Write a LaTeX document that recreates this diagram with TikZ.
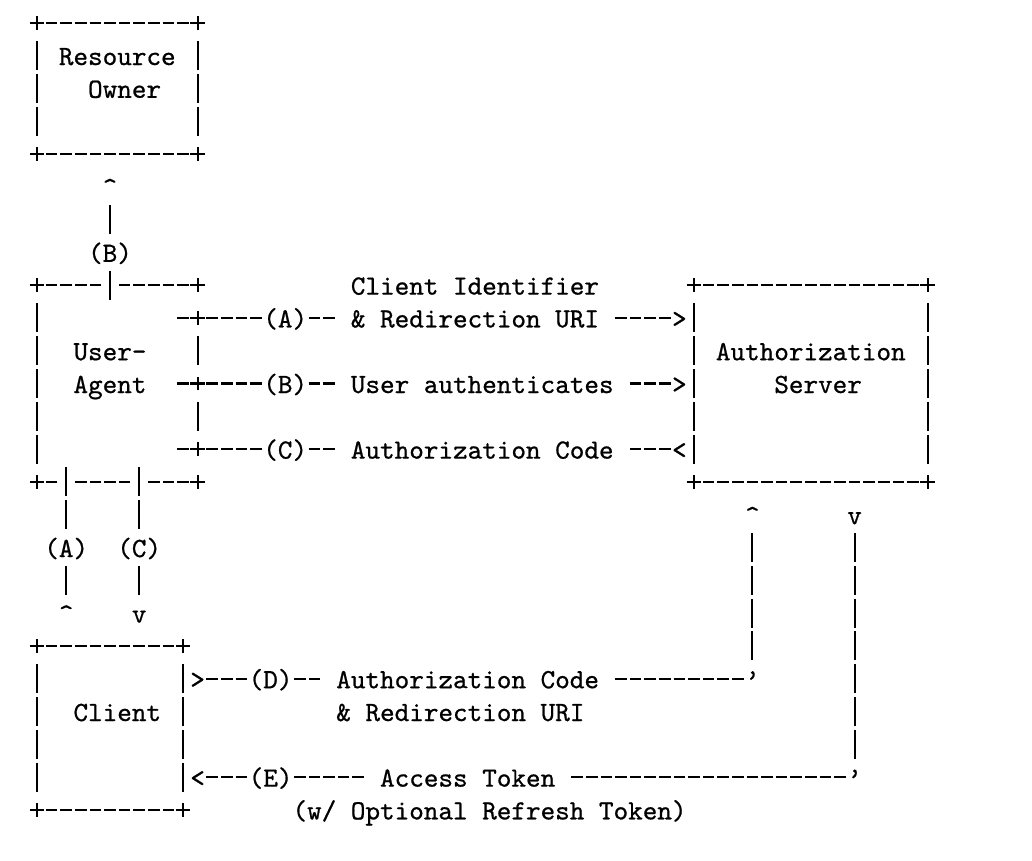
\documentclass[tikz,border=0pt]{standalone}
\usepackage{fontspec}
\usetikzlibrary{calc}
\newfontfamily\asciitt{lmmono10-regular.otf}[FakeBold=0.7]
\newcommand\asciifont{\fontsize{27.8pt}{33pt}\selectfont\asciitt}
\newcommand\padsp{\phantom{x}}
\tikzset{
  lw/.style={line width=2.1pt, line cap=butt},
  hrun/.style={lw, dash pattern=on 11.6pt off 3pt, dash phase=13.1pt},
  vrun/.style={lw, dash pattern=on 29pt off 3.8pt, dash phase=30.9pt},
  txt/.style={font=\asciifont, inner sep=0pt, outer sep=0pt, anchor=base west, yshift=-9.5pt},
  lbl/.style={txt, fill=white, text height=25.9pt, text depth=6.9pt},
  boxarea/.style={rectangle, inner sep=0pt, outer sep=0pt},
}
\newcommand\plusat[1]{\draw[lw] (#1) ++(-7.3pt,0pt) -- ++(14.6pt,0pt) (#1) ++(0pt,-6.8pt) -- ++(0pt,13.6pt);}
\newcommand\hrunat[3]{\draw[hrun] ({#1-0.5},#3) -- ({#2+0.5},#3);}
\newcommand\vrunat[3]{\draw[vrun] (#1,{#2-0.5}) -- (#1,{#3+0.5});}
\newcommand\txtat[4]{\node[txt] (#1) at ({#2-0.5},#3) {#4};}
\newcommand\lblat[4]{\node[lbl] (#1) at ({#2-0.5},#3) {#4};}
\begin{document}
\begin{tikzpicture}
\useasboundingbox (0pt,0pt) rectangle (1032pt,-860pt);
\fill[white] (0pt,0pt) rectangle (1032pt,-860pt);
\begin{scope}[shift={(-36pt,-22.7pt)}, x=14.6pt, y=-32.8pt]
% ---------- box areas ----------
\node[boxarea, minimum width=160.6pt, minimum height=131.2pt] (owner) at (10.5,2) {};
\node[boxarea, minimum width=160.6pt, minimum height=196.8pt] (ua) at (10.5,11) {};
\node[boxarea, minimum width=233.6pt, minimum height=196.8pt] (as) at (58,11) {};
\node[boxarea, minimum width=146pt, minimum height=164pt] (client) at (10,21.5) {};
% ---------- Resource Owner border ----------
\hrunat{6}{15}{0} \hrunat{6}{15}{4}
\vrunat{5}{1}{3} \vrunat{16}{1}{3}
% ---------- User-Agent border ----------
\hrunat{6}{9}{8} \hrunat{11}{15}{8}
\hrunat{6}{6}{14} \hrunat{8}{11}{14} \hrunat{13}{15}{14}
\vrunat{5}{9}{13} \vrunat{16}{10}{10} \vrunat{16}{12}{12}
% ---------- Authorization Server border ----------
\hrunat{51}{65}{8} \hrunat{51}{65}{14}
\vrunat{50}{9}{13} \vrunat{66}{9}{13}
% ---------- Client border ----------
\hrunat{6}{14}{19} \hrunat{6}{14}{24}
\vrunat{5}{20}{23} \vrunat{15}{20}{23}
% ---------- connectors ----------
\coordinate (a0) at (14.5,9);  \coordinate (a1) at (48.5,9);
\coordinate (b0) at (14.5,11); \coordinate (b1) at (48.5,11);
\coordinate (c0) at (14.5,13); \coordinate (c1) at (48.5,13);
\draw[hrun] (a0) -- (a1);
\draw[hrun] (b0) -- (b1);
\draw[hrun] (c0) -- (c1);
\coordinate (bv0) at (10,8.5);  \coordinate (bv1) at (10,5.5);
\draw[vrun] (bv1) -- (bv0);
\coordinate (av0) at (7,13.5);  \coordinate (av1) at (7,17.5);
\coordinate (cv0) at (12,13.5); \coordinate (cv1) at (12,17.5);
\draw[vrun] (av0) -- (av1);
\draw[vrun] (cv0) -- (cv1);
\coordinate (d0) at (16.5,20); \coordinate (d1) at (53.5,20);
\coordinate (d2) at (54,19.5); \coordinate (d3) at (54,15.5);
\draw[hrun] (d0) -- (d1);
\draw[vrun] (d2) -- (d3);
\coordinate (e0) at (16.5,23); \coordinate (e1) at (60.5,23);
\coordinate (e2) at (61,22.5); \coordinate (e3) at (61,15.5);
\draw[hrun] (e0) -- (e1);
\draw[vrun] (e2) -- (e3);
% ---------- corners / plus marks ----------
\plusat{owner.north west} \plusat{owner.north east}
\plusat{owner.south west} \plusat{owner.south east}
\plusat{ua.north west} \plusat{ua.north east}
\plusat{ua.south west} \plusat{ua.south east}
\plusat{as.north west} \plusat{as.north east}
\plusat{as.south west} \plusat{as.south east}
\plusat{client.north west} \plusat{client.north east}
\plusat{client.south west} \plusat{client.south east}
\coordinate (pa) at (16,9);  \plusat{pa}
\coordinate (pb) at (16,11); \plusat{pb}
\coordinate (pc) at (16,13); \plusat{pc}
% ---------- labels on connectors ----------
\lblat{lB}{9}{7}{(B)}
\lblat{lA1}{21}{9}{(A)}
\lblat{lA2}{26}{9}{\padsp\&~Redirection~URI\padsp}
\lblat{lB1}{21}{11}{(B)}
\lblat{lB2}{26}{11}{\padsp User~authenticates\padsp}
\lblat{lC1}{21}{13}{(C)}
\lblat{lC2}{26}{13}{\padsp Authorization~Code\padsp}
\lblat{lA}{6}{16}{(A)}
\lblat{lC}{11}{16}{(C)}
\lblat{lD1}{20}{20}{(D)}
\lblat{lD2}{25}{20}{\padsp Authorization~Code\padsp}
\lblat{lE1}{20}{23}{(E)}
\lblat{lE2}{28}{23}{\padsp Access~Token\padsp}
% ---------- free texts ----------
\txtat{tci}{27}{8}{Client Identifier}
\txtat{tdr}{26}{21}{\& Redirection URI}
\txtat{tref}{23}{24}{(w/ Optional Refresh Token)}
% ---------- box texts ----------
\txtat{ow1}{7}{1}{Resource}
\txtat{ow2}{9}{2}{Owner}
\txtat{ua1}{8}{10}{User-}
\txtat{ua2}{8}{11}{Agent}
\txtat{as1}{52}{10}{Authorization}
\txtat{as2}{56}{11}{Server}
\txtat{cl1}{8}{21}{Client}
% ---------- arrow heads ----------
\txtat{h1}{49}{9}{>}
\txtat{h2}{49}{11}{>}
\txtat{h3}{49}{13}{<}
\txtat{h4}{10}{5}{\textasciicircum}
\txtat{h5}{7}{18}{\textasciicircum}
\txtat{h6}{12}{18}{v}
\txtat{h7}{54}{15}{\textasciicircum}
\txtat{h8}{61}{15}{v}
\txtat{h9}{16}{20}{>}
\txtat{h10}{16}{23}{<}
\txtat{h11}{54}{20}{\textquoteright}
\txtat{h12}{61}{23}{\textquoteright}
\end{scope}
\end{tikzpicture}
\end{document}
